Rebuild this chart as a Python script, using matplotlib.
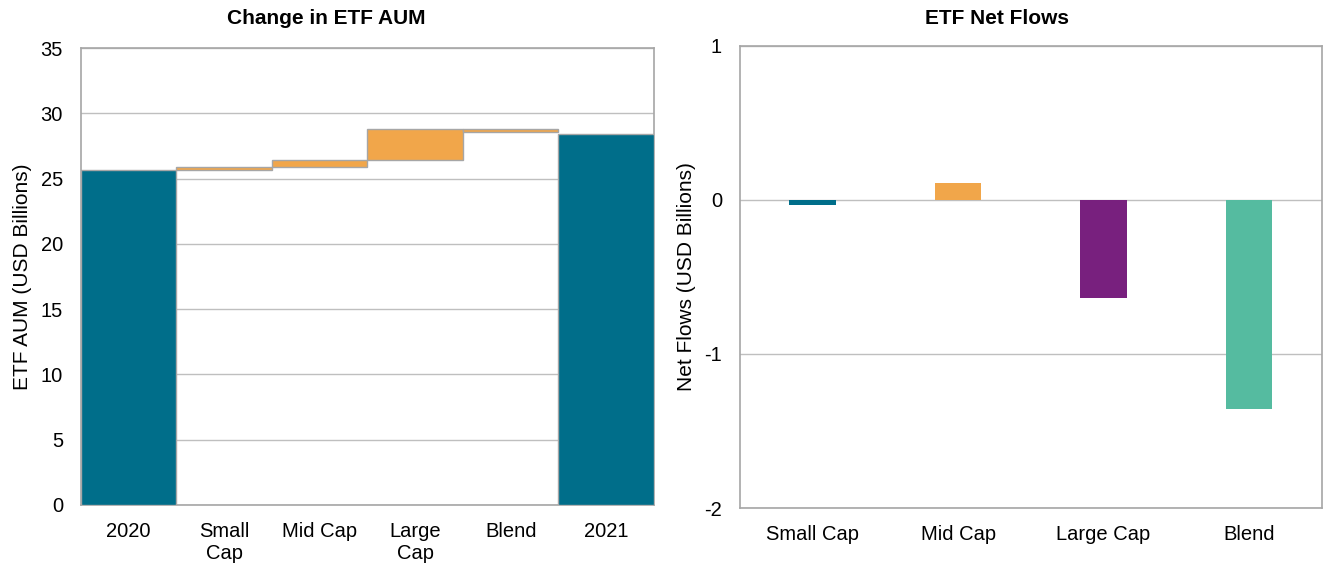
import matplotlib.pyplot as plt
import numpy as np

plt.rcParams["font.family"] = ["Liberation Sans", "DejaVu Sans"]
plt.rcParams["axes.unicode_minus"] = False

# left: waterfall of ETF AUM, USD billions
aum_labels = ["2020", "Small\nCap", "Mid Cap", "Large\nCap", "Blend", "2021"]
aum_start = 25.65
aum_steps = [0.2, 0.6, 2.35, -0.2]
aum_end = 28.45

# right: net flows, USD billions
flow_labels = ["Small Cap", "Mid Cap", "Large Cap", "Blend"]
flow_values = [-0.03, 0.11, -0.635, -1.355]

teal = "#006E8A"
orange = "#F1A64A"
flow_colors = [teal, orange, "#78207E", "#55BBA0"]
grid_c = "#BFBFBF"
spine_c = "#A6A6A6"

fig = plt.figure(figsize=(13.23, 5.69), dpi=100)
ax1 = fig.add_axes([0.0612, 0.1125, 0.4331, 0.8031])
ax2 = fig.add_axes([0.5593, 0.1072, 0.4397, 0.812])

# waterfall
cum = np.concatenate([[aum_start], aum_start + np.cumsum(aum_steps)])
bottoms = np.minimum(cum[:-1], cum[1:])
heights = np.abs(aum_steps)
x = np.arange(len(aum_labels))
ax1.bar(x[0], aum_start, width=1.0, color=teal, edgecolor=spine_c, linewidth=1, zorder=3)
ax1.bar(x[1:-1], heights, bottom=bottoms, width=1.0, color=orange,
        edgecolor=spine_c, linewidth=1, zorder=3)
ax1.bar(x[-1], aum_end, width=1.0, color=teal, edgecolor=spine_c, linewidth=1, zorder=3)
ax1.set_xlim(-0.5, len(aum_labels) - 0.5)
ax1.set_ylim(0, 35)
ax1.set_yticks(range(0, 36, 5))
ax1.set_xticks(x)
ax1.set_xticklabels(aum_labels)
ax1.set_ylabel("ETF AUM (USD Billions)", fontsize=15, labelpad=6)

# net flows
xf = np.arange(len(flow_labels))
ax2.bar(xf, flow_values, width=0.32, color=flow_colors, zorder=3)
ax2.set_xlim(-0.5, len(flow_labels) - 0.5)
ax2.set_ylim(-2, 1)
ax2.set_yticks([-2, -1, 0, 1])
ax2.set_xticks(xf)
ax2.set_xticklabels(flow_labels)
ax2.set_ylabel("Net Flows (USD Billions)", fontsize=15, labelpad=6)

for ax in (ax1, ax2):
    ax.grid(axis="y", color=grid_c, linewidth=1, zorder=0)
    ax.set_axisbelow(True)
    for spine in ax.spines.values():
        spine.set_edgecolor(spine_c)
        spine.set_linewidth(1.2)
    ax.tick_params(axis="y", length=0, pad=13, labelsize=14.5)
    ax.tick_params(axis="x", length=0, pad=12, labelsize=14.5)

fig.text(326 / 1323, 1 - 18 / 569, "Change in ETF AUM", ha="center", va="center",
         fontsize=15, fontweight="bold")
fig.text(997 / 1323, 1 - 18 / 569, "ETF Net Flows", ha="center", va="center",
         fontsize=15, fontweight="bold")

fig.savefig("out.png", dpi=100)
